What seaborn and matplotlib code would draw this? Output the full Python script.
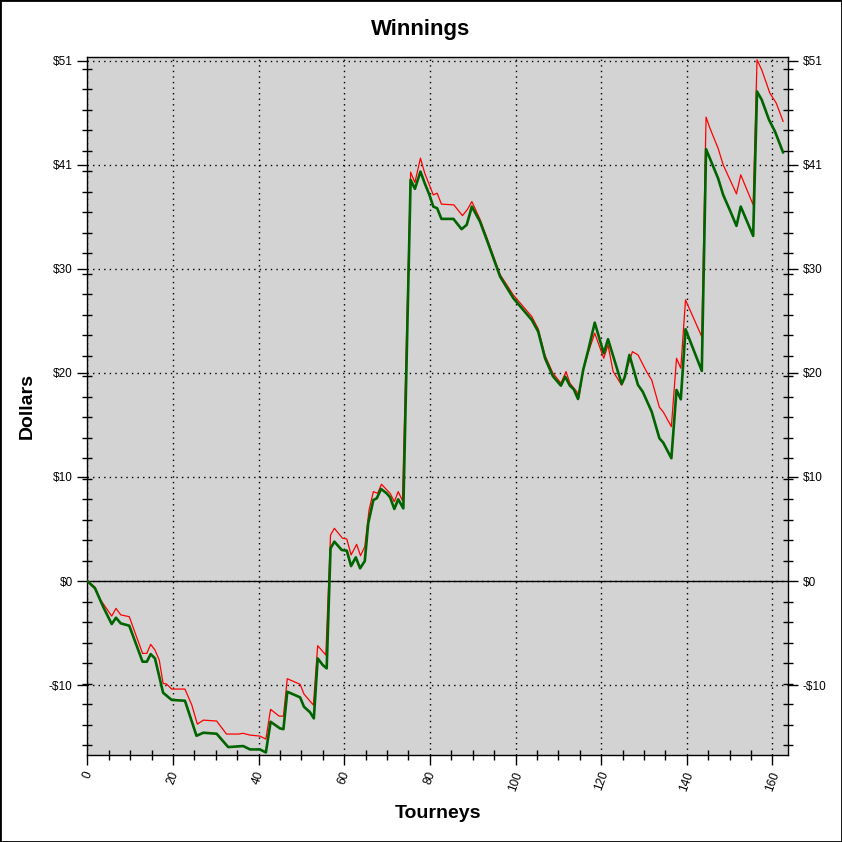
import matplotlib
matplotlib.use('Agg')
import matplotlib.pyplot as plt
from matplotlib.ticker import MultipleLocator, FuncFormatter
import seaborn as sns

# Winnings (tourney number, dollars)
green_tourney = [0, 1.8, 3.7, 5.7, 6.7, 7.8, 9.8, 12.9, 13.9, 14.8, 15.8, 17.7, 19.7,
                 22.8, 25.5, 27.1, 30.2, 32.9, 36.4, 38.0, 40.3, 41.7, 42.8, 45.0,
                 45.8, 46.7, 49.7, 50.6, 52.0, 52.9, 53.8, 55.0, 55.9, 56.8, 57.7,
                 59.4, 60.6, 61.6, 62.7, 63.7, 64.8, 65.6, 66.8, 67.6, 68.6, 69.9,
                 70.7, 71.7, 72.6, 73.8, 75.5, 76.5, 77.8, 78.8, 79.9, 80.8, 81.7,
                 82.7, 85.5, 87.4, 88.6, 89.8, 91.7, 93.3, 96.4, 99.5, 103.8, 105.3,
                 106.9, 108.7, 110.6, 111.6, 112.7, 113.6, 114.6, 115.8, 117.0, 118.5,
                 120.6, 121.6, 124.8, 125.5, 126.6, 128.6, 129.7, 131.8, 133.6, 134.5,
                 136.4, 137.6, 138.6, 139.7, 143.5, 144.5, 147.3, 148.5, 150.1, 151.6,
                 152.6, 155.5, 156.4, 157.5, 159.2, 160.6, 162.5]
green_dollars = [0, -0.71, -2.51, -4.2, -3.58, -4.13, -4.36, -7.87, -7.87, -7.13, -7.55,
                 -10.9, -11.6, -11.68, -15.1, -14.8, -14.9, -16.2, -16.1, -16.43,
                 -16.43, -16.72, -13.73, -14.38, -14.45, -10.8, -11.35, -12.27, -12.8,
                 -13.4, -7.55, -8.2, -8.52, 3.19, 3.84, 3.03, 2.96, 1.46, 2.31, 1.24,
                 1.95, 5.63, 7.9, 8.07, 8.98, 8.56, 8.17, 7.03, 7.97, 7.09, 39.14,
                 38.26, 39.95, 38.8, 37.67, 36.53, 36.37, 35.33, 35.33, 34.33, 34.75,
                 36.53, 35.07, 33.28, 29.7, 27.59, 25.47, 24.33, 21.73, 20.0, 19.06,
                 19.94, 19.06, 18.71, 17.76, 20.59, 22.55, 25.21, 22.22, 23.59, 19.23,
                 19.88, 22.06, 19.13, 18.48, 16.52, 13.93, 13.5, 11.98, 18.64, 17.73,
                 24.57, 20.5, 42.13, 39.3, 37.67, 36.14, 34.65, 36.53, 33.67, 47.76,
                 46.95, 45.0, 43.85, 41.8]

red_tourney = [0, 1.8, 3.0, 5.7, 6.7, 7.8, 9.8, 12.9, 13.9, 14.8, 15.8, 16.8, 17.7,
               18.5, 19.7, 22.8, 24.4, 25.7, 27.1, 30.2, 32.5, 35.3, 36.4, 38.0, 40.3,
               41.7, 42.8, 44.8, 45.8, 46.7, 49.7, 50.6, 52.8, 53.8, 55.7, 56.8, 57.7,
               59.6, 60.6, 61.6, 62.9, 63.8, 64.8, 65.8, 66.8, 67.8, 68.7, 70.7, 71.7,
               72.6, 73.6, 75.5, 76.5, 77.8, 78.8, 80.8, 81.7, 82.7, 85.6, 87.6, 88.7,
               89.8, 91.7, 93.3, 96.4, 99.5, 103.8, 105.3, 106.9, 108.7, 110.6, 111.8,
               112.7, 114.3, 114.8, 115.8, 117.0, 118.5, 120.6, 121.6, 122.8, 124.8,
               127.3, 128.6, 130.6, 131.8, 133.6, 134.5, 136.4, 137.6, 138.6, 139.7,
               143.5, 144.5, 145.4, 147.3, 148.5, 151.6, 152.6, 155.5, 156.4, 157.5,
               159.4, 160.9, 162.5]
red_dollars = [0, -0.6, -1.79, -3.42, -2.67, -3.3, -3.48, -7.06, -7.06, -6.18, -6.73,
               -7.71, -9.99, -10.05, -10.54, -10.54, -12.1, -13.96, -13.57, -13.66,
               -14.93, -14.93, -14.86, -15.03, -15.13, -15.42, -12.52, -13.18, -13.18,
               -9.53, -10.08, -11.03, -12.1, -6.31, -7.22, 4.49, 5.14, 4.17, 4.1, 2.54,
               3.58, 2.47, 3.35, 6.93, 8.72, 8.56, 9.44, 8.56, 7.74, 8.72, 7.84, 39.89,
               38.88, 41.26, 39.79, 37.67, 37.84, 36.77, 36.7, 35.65, 36.21, 37.02,
               35.3, 33.5, 29.9, 27.9, 25.8, 24.6, 22.0, 20.3, 19.3, 20.43, 19.3, 18.48,
               17.9, 20.6, 22.3, 24.18, 21.73, 23.03, 20.43, 19.1, 22.38, 22.06, 20.43,
               19.62, 16.95, 16.5, 15.06, 21.73, 20.76, 27.43, 23.84, 45.26, 44.18,
               42.23, 40.6, 37.77, 39.63, 36.7, 50.85, 49.87, 47.6, 46.62, 44.83]

x_step = 20
y_step = 10.15

sns.set_style('ticks', {'axes.facecolor': '#D3D3D3', 'axes.edgecolor': 'black',
                        'text.color': 'black', 'xtick.color': 'black',
                        'ytick.color': 'black'})
plt.rcParams['font.family'] = ['Liberation Sans', 'DejaVu Sans']

fig = plt.figure(figsize=(8.42, 8.42), dpi=100)
ax = fig.add_axes([0.1037, 0.103, 0.8325, 0.829])

sns.lineplot(x=red_tourney, y=red_dollars, color='#FF0000', linewidth=0.9,
             estimator=None, sort=False, ax=ax, zorder=3)
sns.lineplot(x=green_tourney, y=green_dollars, color='#006400', linewidth=1.9,
             estimator=None, sort=False, ax=ax, zorder=4)
ax.axhline(0, color='black', linewidth=1, zorder=2)

ax.set_xlim(0, 163.7)
ax.set_ylim(-17.0, 51.1)
ax.xaxis.set_major_locator(MultipleLocator(x_step))
ax.xaxis.set_minor_locator(MultipleLocator(5))
ax.yaxis.set_major_locator(MultipleLocator(y_step))
ax.yaxis.set_minor_locator(MultipleLocator(2))


def dollars(v, pos):
    v = round(v)
    return f'${v}' if v >= 0 else f'-${-v}'


ax.yaxis.set_major_formatter(FuncFormatter(dollars))
ax.grid(which='major', color='black', linestyle=(0, (1, 3)), linewidth=1)
ax.set_axisbelow(True)

ax.tick_params(which='major', direction='out', length=7, width=1, labelsize=8.5,
               right=True, labelright=True, colors='black')
ax.tick_params(which='minor', direction='inout', length=7, width=1, right=True)
plt.setp(ax.get_xticklabels(), rotation=70)
for s in ax.spines.values():
    s.set_color('black')
    s.set_linewidth(1)

fig.text(0.5, 1 - 30 / 842, 'Winnings', ha='center', va='center', color='black',
         fontsize=16, fontweight='bold')
fig.text(437.8 / 842, 1 - 814 / 842, 'Tourneys', ha='center', va='center',
         color='black', fontsize=14, fontweight='bold')
fig.text(27 / 842, 1 - 406 / 842, 'Dollars', ha='center', va='center', color='black',
         rotation=90, fontsize=14, fontweight='bold')

fig.patches.append(plt.Rectangle((0, 0), 1, 1, transform=fig.transFigure,
                                 fill=False, edgecolor='black', linewidth=2))

fig.savefig('out.png', dpi=100)
